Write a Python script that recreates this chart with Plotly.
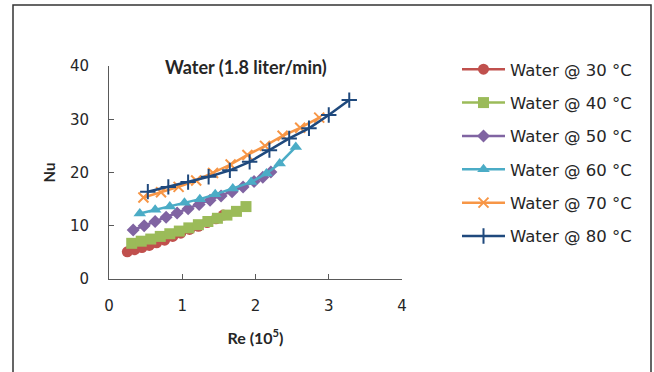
import plotly.graph_objects as go

# ---- data ----
re_30 = [0.25, 0.35, 0.45, 0.55, 0.65, 0.76, 0.87, 0.98, 1.10, 1.22, 1.34, 1.46, 1.56]
nu_30 = [5.1, 5.5, 5.9, 6.3, 6.8, 7.3, 8.0, 8.6, 9.3, 9.9, 10.6, 11.3, 12.0]

re_40 = [0.31, 0.44, 0.57, 0.70, 0.83, 0.96, 1.09, 1.22, 1.35, 1.48, 1.61, 1.74, 1.87]
nu_40 = [6.7, 7.1, 7.5, 8.0, 8.5, 9.0, 9.6, 10.2, 10.8, 11.4, 12.0, 12.7, 13.6]

re_50 = [0.33, 0.48, 0.63, 0.78, 0.93, 1.08, 1.23, 1.38, 1.53, 1.68, 1.83, 1.98, 2.10, 2.21]
nu_50 = [9.2, 10.0, 10.8, 11.6, 12.4, 13.2, 14.0, 14.8, 15.6, 16.4, 17.3, 18.3, 19.1, 20.1]

re_60 = [0.42, 0.63, 0.83, 1.03, 1.24, 1.45, 1.69, 1.94, 2.15, 2.33, 2.55]
nu_60 = [12.3, 13.0, 13.6, 14.3, 15.0, 15.9, 17.0, 18.2, 19.8, 21.7, 24.8]

re_70 = [0.47, 0.71, 0.95, 1.19, 1.42, 1.66, 1.89, 2.13, 2.37, 2.61, 2.87]
nu_70 = [15.3, 16.3, 17.3, 18.5, 19.9, 21.5, 23.3, 25.0, 26.9, 28.4, 30.3]

re_80 = [0.53, 0.81, 1.08, 1.36, 1.65, 1.92, 2.19, 2.46, 2.73, 3.00, 3.28]
nu_80 = [16.4, 17.3, 18.2, 19.2, 20.4, 22.0, 24.2, 26.4, 28.3, 30.8, 33.6]

series_names = ["Water @ 30 °C", "Water @ 40 °C", "Water @ 50 °C",
                "Water @ 60 °C", "Water @ 70 °C", "Water @ 80 °C"]
x_ticks = [0, 1, 2, 3, 4]
y_ticks = [0, 10, 20, 30, 40]

# ---- styling ----
colors = ["#C0504D", "#9BBB59", "#8064A2", "#4BACC6", "#F79646", "#1F497D"]
symbols = ["circle", "square", "diamond", "triangle-up", "x-thin-open", "cross-thin-open"]
sizes = [11, 11, 10, 11, 10, 11]

data = [(re_30, nu_30), (re_40, nu_40), (re_50, nu_50),
        (re_60, nu_60), (re_70, nu_70), (re_80, nu_80)]

W, H = 654, 372
L, R, T, B = 109, 402, 66, 279  # plot-area pixel box


def px(x):
    return (x - L) / (R - L)


def py(y):
    return (B - y) / (B - T)


fig = go.Figure()
for i, ((xs, ys), name) in enumerate(zip(data, series_names)):
    fig.add_trace(go.Scatter(
        x=xs, y=ys, name=name, mode="lines+markers",
        legendgroup=f"g{i}",
        line=dict(color=colors[i], width=2.5),
        marker=dict(symbol=symbols[i], size=sizes[i], color=colors[i],
                    line=dict(color=colors[i], width=2 if i >= 4 else 0)),
    ))

axis_common = dict(
    showline=True, linecolor="#595959", linewidth=1,
    ticks="inside", ticklen=5, tickcolor="#595959",
    showgrid=False, zeroline=False,
    tickfont=dict(family="DejaVu Sans", size=15, color="#262626"),
)

fig.update_layout(
    width=W, height=H,
    margin=dict(l=L, r=W - R, t=T, b=H - B, autoexpand=False),
    paper_bgcolor="white", plot_bgcolor="white",
    showlegend=True,
    legend=dict(
        x=px(457), y=py(52), xanchor="left", yanchor="top",
        font=dict(family="DejaVu Sans", size=16.5, color="#262626"),
        tracegroupgap=8.9, itemwidth=43, maxheight=320,
        bgcolor="rgba(0,0,0,0)",
    ),
    xaxis=dict(range=[0, 4], tickvals=x_ticks, ticklabelstandoff=13,
               title=dict(text="<b>Re (10<sup>5</sup>)</b>",
                          font=dict(family="Lato", size=16, color="#262626"),
                          standoff=18),
               **axis_common),
    yaxis=dict(range=[0, 40], tickvals=y_ticks, ticklabelstandoff=16,
               title=dict(text="<b>Nu</b>",
                          font=dict(family="Lato", size=15, color="#262626"),
                          standoff=10),
               **axis_common),
    annotations=[dict(
        text="<b>Water (1.8 liter/min)</b>", xref="paper", yref="paper",
        x=px(246), y=py(67), xanchor="center", yanchor="middle",
        showarrow=False, font=dict(family="Lato", size=18, color="#262626"),
    )],
    shapes=[dict(type="rect", xref="paper", yref="paper",
                 x0=px(13), x1=px(651), y0=py(385), y1=py(5),
                 line=dict(color="#333333", width=1.5))],
)

fig.write_html("out.html")
